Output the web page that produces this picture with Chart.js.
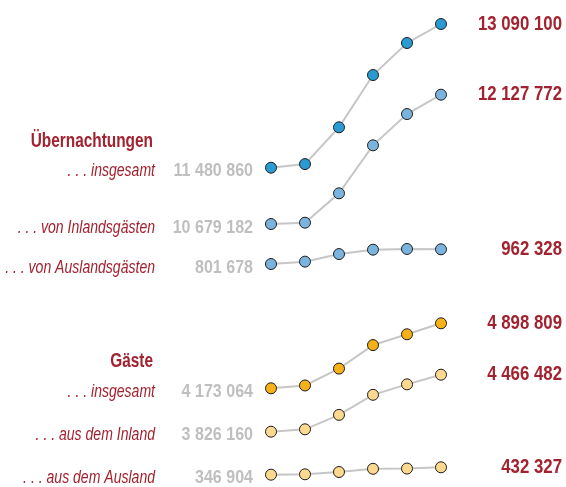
<!DOCTYPE html>
<html lang="de">
<head>
<meta charset="utf-8">
<script src="https://cdn.jsdelivr.net/npm/chart.js@4/dist/chart.umd.min.js"></script>
<style>
  html, body { margin: 0; padding: 0; background: #ffffff; }
  #wrap { width: 566px; height: 487px; position: relative; }
</style>
</head>
<body>
<div id="wrap"><canvas id="chart" width="566" height="487"></canvas></div>
<script>
// Jahre (x-Achse, nicht beschriftet)
const years = ['2014', '2015', '2016', '2017', '2018', '2019'];

// Übernachtungen
const uebernachtungenGesamt  = [11480860, 11521300, 11933300, 12518600, 12877200, 13090100];
const uebernachtungenInland  = [10679182, 10693800, 11023000, 11560600, 11911200, 12127772];
const uebernachtungenAusland = [801678, 827500, 910300, 958000, 966000, 962328];

// Gäste
const gaesteGesamt  = [4173064, 4204600, 4393000, 4655600, 4776000, 4898809];
const gaesteInland  = [3826160, 3853100, 4015000, 4240600, 4358000, 4466482];
const gaesteAusland = [346904, 351500, 378000, 415000, 418000, 432327];

const seriesLabels = [
  '. . . insgesamt', '. . . von Inlandsgästen', '. . . von Auslandsgästen',
  '. . . insgesamt', '. . . aus dem Inland', '. . . aus dem Ausland'
];
const groupTitles = ['Übernachtungen', 'Gäste'];

// Layout: Pixelzeile des ersten und letzten Punkts jeder Reihe
const rowStartY = [167.7, 224, 264, 388.3, 431.7, 474.7];
const rowEndY   = [24, 94.7, 249.3, 323.3, 374.7, 467.3];
const H = 487;

const RED = '#a3222f';
const GREY = '#bfbfbf';
const FONT = '"Liberation Sans", Arial, sans-serif';

const allSeries = [uebernachtungenGesamt, uebernachtungenInland, uebernachtungenAusland,
                   gaesteGesamt, gaesteInland, gaesteAusland];
const fills = ['#2a9ad3', '#7ab4de', '#7ab4de', '#f6b119', '#fdd88f', '#fdd88f'];

function fmt(v) {
  return String(Math.round(v)).replace(/\B(?=(\d{3})+(?!\d))/g, ' ');
}

// Eine unsichtbare y-Achse je Reihe, damit jede Reihe ihre eigene Zeile erhält
const scales = {
  x: { type: 'category', offset: false, display: false, grid: { display: false } }
};
allSeries.forEach((vals, i) => {
  const v0 = vals[0], v1 = vals[vals.length - 1];
  const k = (v1 - v0) / (rowStartY[i] - rowEndY[i]);
  scales['y' + i] = {
    type: 'linear', display: false,
    min: v0 - (H - rowStartY[i]) * k,
    max: v0 + rowStartY[i] * k
  };
});

const datasets = allSeries.map((vals, i) => ({
  label: seriesLabels[i],
  data: vals,
  yAxisID: 'y' + i,
  borderColor: '#c6c6c6',
  borderWidth: 2,
  pointBackgroundColor: fills[i],
  pointBorderColor: '#1e1e1e',
  pointBorderWidth: 1,
  pointRadius: 5.5,
  tension: 0,
  clip: false
}));

// schmal laufender Text (horizontal gestaucht)
function narrowText(ctx, text, x, y, squeeze) {
  ctx.save();
  ctx.translate(x, y);
  ctx.scale(squeeze, 1);
  ctx.fillText(text, 0, 0);
  ctx.restore();
}

const labelPlugin = {
  id: 'rowLabels',
  afterDatasetsDraw(chart) {
    const ctx = chart.ctx;
    ctx.save();
    ctx.textBaseline = 'alphabetic';
    ctx.textAlign = 'right';
    chart.data.datasets.forEach((ds, i) => {
      const pts = chart.getDatasetMeta(i).data;
      const first = pts[0], last = pts[pts.length - 1];
      const base = first.y + 8.5;
      ctx.fillStyle = RED;
      ctx.font = 'italic 18px ' + FONT;
      narrowText(ctx, ds.label, 155, base, 0.78);
      ctx.fillStyle = GREY;
      ctx.font = 'bold 19px ' + FONT;
      narrowText(ctx, fmt(ds.data[0]), 253, base, 0.845);
      ctx.fillStyle = RED;
      ctx.font = 'bold 20px ' + FONT;
      narrowText(ctx, fmt(ds.data[ds.data.length - 1]), 562, last.y + 5.5, 0.84);
      if (i % 3 === 0) {
        ctx.font = 'bold 20px ' + FONT;
        narrowText(ctx, groupTitles[i / 3], 153, first.y - 21, 0.77);
      }
    });
    ctx.restore();
  }
};

new Chart(document.getElementById('chart'), {
  type: 'line',
  data: { labels: years, datasets },
  options: {
    responsive: false,
    animation: false,
    layout: { autoPadding: false, padding: { left: 271, right: 125, top: 0, bottom: 0 } },
    scales,
    plugins: { legend: { display: false }, tooltip: { enabled: false } }
  },
  plugins: [labelPlugin]
});
</script>
</body>
</html>
